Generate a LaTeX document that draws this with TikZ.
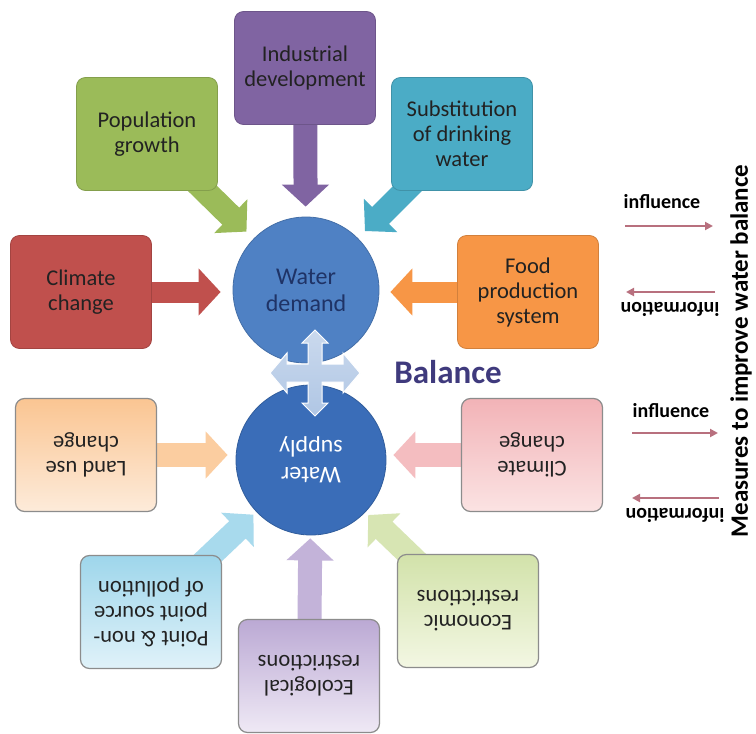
\documentclass[tikz,border=0pt]{standalone}
\usepackage{fontspec}
\setmainfont{Carlito}
\usetikzlibrary{arrows.meta,calc,shadings,backgrounds}
\definecolor{cInd}{HTML}{8064A2}
\definecolor{cPop}{HTML}{9BBB59}
\definecolor{cSub}{HTML}{4BACC6}
\definecolor{cClim}{HTML}{C0504D}
\definecolor{cFood}{HTML}{F79646}
\definecolor{cDem}{HTML}{4F81C4}
\definecolor{cDemTxt}{HTML}{1F3366}
\definecolor{cSup}{HTML}{3A6DB8}
\definecolor{cBal}{HTML}{3F3A7D}
\definecolor{cMauve}{HTML}{B8707E}
\definecolor{cTxt}{HTML}{222222}
\definecolor{cLandA}{HTML}{FAC592}
\definecolor{cLandB}{HTML}{FDEBDA}
\definecolor{cPinkA}{HTML}{F2B3B7}
\definecolor{cPinkB}{HTML}{FBE3E3}
\definecolor{cPolA}{HTML}{9ED6EB}
\definecolor{cPolB}{HTML}{E0F2F9}
\definecolor{cEcoA}{HTML}{BBA9D4}
\definecolor{cEcoB}{HTML}{EFE9F5}
\definecolor{cEcnA}{HTML}{D2E2AA}
\definecolor{cEcnB}{HTML}{F3F7E3}
\definecolor{cBorder}{HTML}{8C8C8C}
\tikzset{
  boxbase/.style={rectangle, rounded corners=9pt, minimum width=141pt, minimum height=113pt,
    align=center, text=cTxt, font=\fontsize{22.5}{25}\selectfont},
  topbox/.style={boxbase, fill=#1, draw=#1!85!black, line width=0.8pt},
  botbox/.style 2 args={boxbase, rotate=180, top color=#1, bottom color=#2, draw=cBorder, line width=1.2pt},
  blk/.style={line width=24pt, -{Triangle[width=46pt,length=22pt]}, draw=#1},
  thinarr/.style={line width=2.6pt, draw=cMauve, -{Triangle[width=8pt,length=8pt]}},
  smalltxt/.style={font=\fontsize{20}{22}\selectfont\bfseries, text=black},
}
\begin{document}
\begin{tikzpicture}[x=1pt,y=-1pt]
\useasboundingbox (0,0) rectangle (756,734);
% circles
\node[circle, minimum size=146pt, fill=cDem, draw=cDem!85!black, line width=0.8pt, align=center,
  text=cDemTxt, font=\fontsize{24}{27}\selectfont] (dem) at (306,290) {Water\\demand};
\node[circle, minimum size=150pt, fill=cSup, draw=cSup!85!black, line width=0.8pt, align=center,
  text=white, rotate=180, font=\fontsize{24}{27}\selectfont] (sup) at (311,460) {Water\\supply};
% top boxes
\node[topbox=cInd] (ind) at (305,68) {Industrial\\development};
\node[topbox=cPop] (pop) at (147,134) {Population\\growth};
\node[topbox=cSub] (sub) at (462,134) {Substitution\\of drinking\\water};
\node[topbox=cClim] (clim) at (81,292) {Climate\\change};
\node[topbox=cFood] (food) at (528,292) {Food\\production\\system};
% bottom boxes
\node[botbox={cLandA}{cLandB}] (land) at (86,455) {Land use\\change};
\node[botbox={cPinkA}{cPinkB}] (clim2) at (532,455) {Climate\\change};
\node[botbox={cPolA}{cPolB}] (poll) at (151,612) {Point \& non-\\point source\\of pollution};
\node[botbox={cEcoA}{cEcoB}] (eco) at (309,676) {Ecological\\restrictions};
\node[botbox={cEcnA}{cEcnB}] (econ) at (468,611) {Economic\\restrictions};
% block arrows
\begin{scope}[on background layer]
\fill[white] (0,0) rectangle (756,734);
\draw[blk=cInd, shorten >=10pt] (ind.center) -- (dem);
\draw[blk=cPop, shorten >=10pt] (pop.center) -- (dem);
\draw[blk=cSub, shorten >=10pt] (sub.center) -- (dem);
\draw[blk=cClim, line width=21pt, shorten >=12pt] (clim.center) -- (dem.west |- clim.center);
\draw[blk=cFood, line width=21pt, shorten >=11pt] (food.center) -- (dem.east |- food.center);
\draw[blk=cLandA!80!cLandB, shorten >=8pt] (land.center) -- (sup.east |- land.center);
\draw[blk=cPinkA!80!cPinkB, shorten >=7pt] (clim2.center) -- (sup.west |- clim2.center);
\draw[blk=cPolA!85!cPolB, shorten >=4pt] (poll.center) -- (sup);
\draw[blk=cEcoA!85!cEcoB, shorten >=3pt] (eco.center) -- (sup);
\draw[blk=cEcnA!85!cEcnB, shorten >=4pt] (econ.center) -- (sup);
\end{scope}
% balance quad arrow
\coordinate (bal) at (315,373);
\draw[shift={(bal)}, draw=white, line width=1pt, top color=cDem!30!white, bottom color=cDem!45!white, line join=miter]
  (0,-43) -- (13,-30) -- (7,-30) -- (7,-9) -- (28,-9) -- (28,-20) -- (45,0) -- (28,20) -- (28,9) -- (7,9)
  -- (7,30) -- (13,30) -- (0,43) -- (-13,30) -- (-7,30) -- (-7,9) -- (-28,9) -- (-28,20) -- (-45,0)
  -- (-28,-20) -- (-28,-9) -- (-7,-9) -- (-7,-30) -- (-13,-30) -- cycle;
\node[font=\fontsize{33}{35}\selectfont\bfseries, text=cBal] (baltxt) at (448,372) {Balance};
% right side legend
\node[smalltxt] (inf1) at (662,202) {influence};
\coordinate (i1a) at (625,226); \coordinate (i1b) at (713,226);
\draw[thinarr] (i1a) -- (i1b);
\coordinate (f1a) at (715,292); \coordinate (f1b) at (626,292);
\draw[thinarr] (f1a) -- (f1b);
\node[smalltxt, rotate=180] (inf1b) at (670,309) {information};
\node[smalltxt] (inf2) at (671,411) {influence};
\coordinate (i2a) at (632,433); \coordinate (i2b) at (718,433);
\draw[thinarr] (i2a) -- (i2b);
\coordinate (f2a) at (719,498); \coordinate (f2b) at (632,498);
\draw[thinarr] (f2a) -- (f2b);
\node[smalltxt, rotate=180] (inf2b) at (675,515) {information};
\node[font=\fontsize{25}{27}\selectfont\bfseries, text=black, rotate=90] (meas) at (741,351) {Measures to improve water balance};
\end{tikzpicture}
\end{document}
